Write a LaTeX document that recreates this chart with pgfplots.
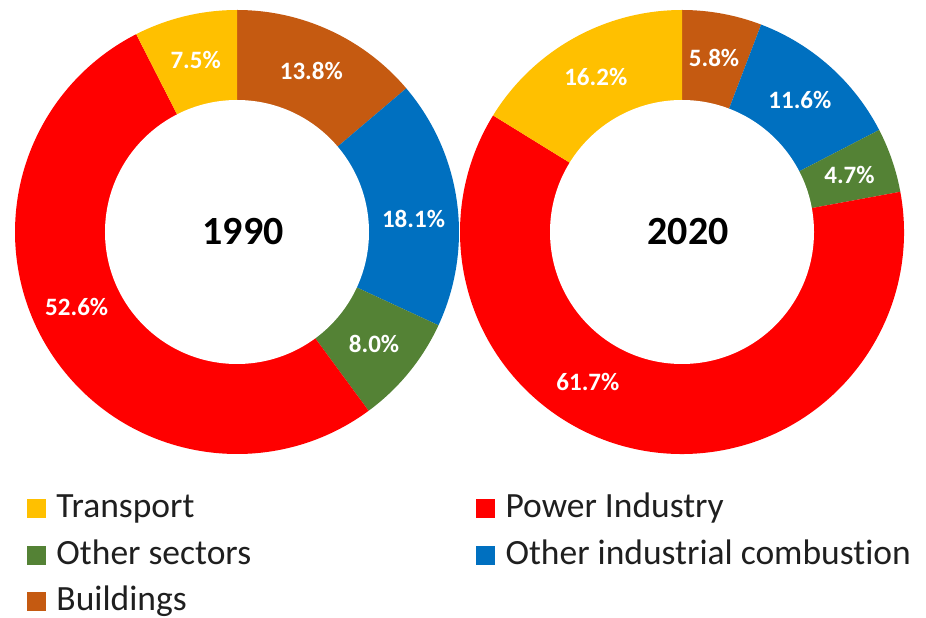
\documentclass[border=0pt]{standalone}
\usepackage{pgfplots}
\pgfplotsset{compat=1.18}
\usepackage{pgfplotstable}
\usepackage{fontspec}
\setmainfont{Carlito}[Ligatures=NoCommon]
\usetikzlibrary{calc}
\definecolor{cyellow}{HTML}{FFC000}
\definecolor{cred}{HTML}{FF0000}
\definecolor{cbrown}{HTML}{C55A11}
\definecolor{cblue}{HTML}{0070C0}
\definecolor{cgreen}{HTML}{548235}

% sectors clockwise from 12 o'clock; shift = label angle correction (deg)
\pgfplotstableread{
sector    value shift col
Buildings 13.8  0     cbrown
OtherInd  18.1  -3.5  cblue
Other     8.0   0     cgreen
Power     52.6  -6.6  cred
Transport 7.5   0     cyellow
}\dataA
\pgfplotstableread{
sector    value shift col
Buildings 5.8   0     cbrown
OtherInd  11.6  0     cblue
Other     4.7   0     cgreen
Power     61.7  -21.5 cred
Transport 16.2  0     cyellow
}\dataB

\newcommand\Ro{222pt}
\newcommand\Ri{132pt}
\newcommand\Rl{177pt}
\newcommand\lblfont{\fontsize{25}{29}\selectfont\bfseries}
\newcommand\yearfont{\fontsize{40}{46}\selectfont\bfseries}
\newcommand\legfont{\fontsize{35.5}{40}\selectfont}

\newcommand\drawdonut[1]{%
  \coordinate (c) at (axis cs:0,0);
  \def\cum{0}%
  \pgfplotsforeachungrouped \i in {0,...,4}{%
    \pgfplotstablegetelem{\i}{value}\of{#1}\let\v\pgfplotsretval
    \pgfplotstablegetelem{\i}{col}\of{#1}\let\col\pgfplotsretval
    \pgfmathsetmacro\a{90-3.6*\cum}%
    \pgfmathsetmacro\b{90-3.6*(\cum+\v)}%
    \pgfmathsetmacro\cum{\cum+\v}%
    \edef\tmp{\noexpand\fill[\col] (c) -- +(\a:\Ro) arc[start angle=\a, end angle=\b, radius=\Ro] -- cycle;}%
    \tmp
  }%
  \fill[white] (c) circle[radius=\Ri];
  \def\cum{0}%
  \pgfplotsforeachungrouped \i in {0,...,4}{%
    \pgfplotstablegetelem{\i}{value}\of{#1}\let\v\pgfplotsretval
    \pgfplotstablegetelem{\i}{shift}\of{#1}\let\s\pgfplotsretval
    \pgfmathsetmacro\m{90-3.6*(\cum+\v/2)+\s}%
    \pgfmathsetmacro\cum{\cum+\v}%
    \edef\tmp{\noexpand\node[text=white, font=\noexpand\lblfont, inner sep=0pt] at ($(c)+(\m:\Rl)$) {\v\noexpand\%};}%
    \tmp
  }%
}

\begin{document}
\begin{tikzpicture}
\path[use as bounding box, fill=white] (0,0) rectangle (926pt,618pt);
\begin{axis}[
  at={(15pt,164pt)}, anchor=south west,
  width=444pt, height=444pt, scale only axis,
  xmin=-1, xmax=1, ymin=-1, ymax=1,
  hide axis, clip=false,
  legend columns=2,
  legend cell align=left,
  legend image code/.code={\fill[#1] (0pt,-9pt) rectangle (19pt,10pt);},
  legend style={
    at={(0.027,-0.0855)}, anchor=north west,
    draw=none, fill=none, inner sep=0pt, outer sep=0pt,
    font=\legfont, text=black!88,
    row sep=11.3pt,
    nodes={inner sep=0pt, text height=26pt, text depth=9pt},
    /tikz/every odd column/.append style={column sep=10.5pt},
    /tikz/every even column/.append style={column sep=225pt},
  },
]
\addlegendimage{fill=cyellow, draw=none}
\addlegendentry{Transport}
\addlegendimage{fill=cred, draw=none}
\addlegendentry{Power Industry}
\addlegendimage{fill=cgreen, draw=none}
\addlegendentry{Other sectors}
\addlegendimage{fill=cblue, draw=none}
\addlegendentry{Other industrial combustion}
\addlegendimage{fill=cbrown, draw=none}
\addlegendentry{Buildings}
\drawdonut{\dataA}
\node[font=\yearfont, text=black] at ($(axis cs:0,0)+(6pt,0pt)$) {1990};
\end{axis}
\begin{axis}[
  at={(460pt,164pt)}, anchor=south west,
  width=444pt, height=444pt, scale only axis,
  xmin=-1, xmax=1, ymin=-1, ymax=1,
  hide axis, clip=false,
]
\drawdonut{\dataB}
\node[font=\yearfont, text=black] at ($(axis cs:0,0)+(6pt,0pt)$) {2020};
\end{axis}
\end{tikzpicture}
\end{document}
